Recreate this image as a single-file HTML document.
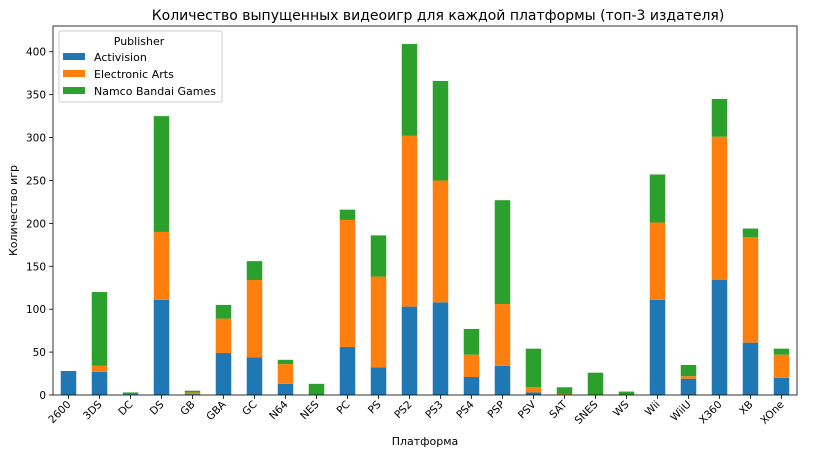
<!DOCTYPE html>
<html><head><meta charset="utf-8"><style>
body{margin:0;background:#fff;}
svg text{font-family:"DejaVu Sans","Liberation Sans",sans-serif;fill:#000;}
</style></head><body>
<svg id="chart" width="816" height="455" xmlns="http://www.w3.org/2000/svg">
<text x="438" y="20" font-size="14" text-anchor="middle">Количество выпущенных видеоигр для каждой платформы (топ-3 издателя)</text>
<g id="bars"></g>
<g id="axes"></g>
</svg>
<script>
const categories=["2600","3DS","DC","DS","GB","GBA","GC","N64","NES","PC","PS","PS2","PS3","PS4","PSP","PSV","SAT","SNES","WS","Wii","WiiU","X360","XB","XOne"];
const activision=[28,27,1,111,1,49,44,13,0,56,32,103,108,21,34,3,0,0,0,111,19,134,61,20];
const electronicArts=[0,7,0,79,2,40,90,23,0,148,106,199,142,26,72,6,1,0,0,90,3,167,123,27];
const namco=[0,86,2,135,2,16,22,5,13,12,48,107,116,30,121,45,8,26,4,56,13,44,10,7];
const yTicks=[0,50,100,150,200,250,300,350,400];
const seriesNames=["Activision","Electronic Arts","Namco Bandai Games"];
const colors=["#1f77b4","#ff7f0e","#2ca02c"];
const L=53,R=797,T=26,B=395,yMax=430;
const ns="http://www.w3.org/2000/svg";
const svg=document.getElementById('chart');
const gb=document.getElementById('bars'),ga=document.getElementById('axes');
const step=(R-L)/categories.length;
const xc=i=>L+step*(i+0.5);
const y=v=>B-(v/yMax)*(B-T);
function mk(tag,attrs,parent){const e=document.createElementNS(ns,tag);for(const k in attrs)e.setAttribute(k,attrs[k]);parent.appendChild(e);return e;}
const series=[activision,electronicArts,namco];
categories.forEach((c,i)=>{
  let base=0;
  series.forEach((s,si)=>{
    const v=s[i];
    if(v>0){
      const r=mk('rect',{x:xc(i)-step*0.25,y:y(base+v),width:step*0.5,height:y(base)-y(base+v),fill:colors[si]},gb);
      
      
    }
    base+=v;
  });
  mk('line',{x1:xc(i),x2:xc(i),y1:B,y2:B+4,stroke:'#000','stroke-width':0.8},ga);
  const t=mk('text',{x:xc(i)+3,y:B+10,'font-size':10.5,'text-anchor':'end',transform:`rotate(-45 ${xc(i)+3} ${B+10})`},ga);
  t.textContent=c;
  
  
});
yTicks.forEach(v=>{
  mk('line',{x1:L-4,x2:L,y1:y(v),y2:y(v),stroke:'#000','stroke-width':0.8},ga);
  const t=mk('text',{x:L-7,y:y(v)+4,'font-size':10.5,'text-anchor':'end'},ga);
  t.textContent=v;
  
  
});
const fr=mk('rect',{x:L,y:T,width:R-L,height:B-T,fill:'none',stroke:'#000','stroke-width':0.8},ga);


const xt=mk('text',{x:(L+R)/2,y:445,'font-size':11,'text-anchor':'middle'},ga);
xt.textContent='Платформа';


const yt=mk('text',{x:17,y:(T+B)/2,'font-size':11,'text-anchor':'middle',transform:`rotate(-90 17 ${(T+B)/2})`},ga);
yt.textContent='Количество игр';


const lg=mk('g',{},svg);


mk('rect',{x:59,y:31,width:163,height:71,rx:2,fill:'#fff','fill-opacity':0.8,stroke:'#ccc'},lg);
const lt=mk('text',{x:139,y:45,'font-size':11,'text-anchor':'middle'},lg);
lt.textContent='Publisher';
seriesNames.forEach((n,i)=>{
  const ey=57+i*17;
  const sw=mk('rect',{x:63,y:ey-4,width:22,height:7,fill:colors[i]},lg);
  
  
  const tx=mk('text',{x:94,y:ey+4,'font-size':11},lg);
  tx.textContent=n;
  
  
});
</script>
</body></html>
